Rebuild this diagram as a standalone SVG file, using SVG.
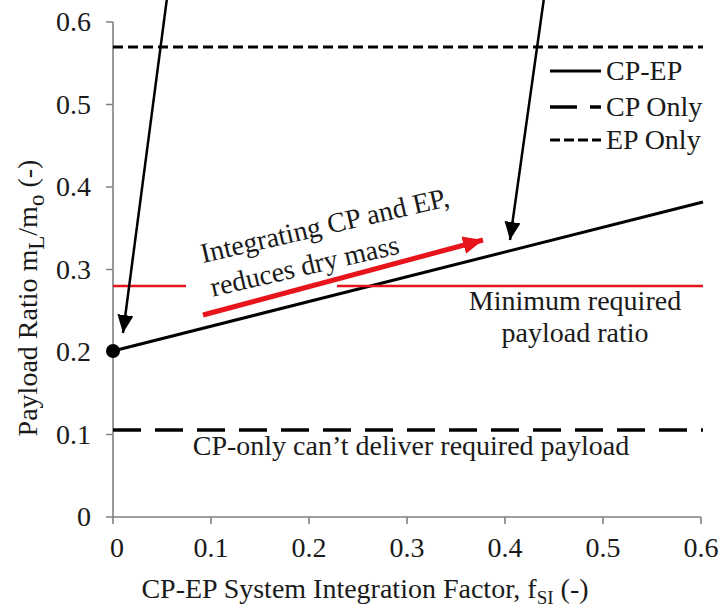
<svg xmlns="http://www.w3.org/2000/svg" width="725" height="613" viewBox="0 0 725 613">
<defs>
<style>
text{font-family:"Liberation Serif","Times New Roman",serif;fill:#1a1a1a;font-size:28px}
.ax{stroke:#808080;stroke-width:1.6;fill:none}
.tk{text-anchor:middle}
.yt{text-anchor:end}
.blk{stroke:#000;stroke-width:2.5;fill:none}
.red{stroke:#e8141b;fill:none}
</style>
<marker id="ahb" markerUnits="userSpaceOnUse" markerWidth="20" markerHeight="20" refX="18" refY="8" orient="auto">
<path d="M0,0 L18,8 L0,16 Z" fill="#000"/>
</marker>
<marker id="ahr" markerUnits="userSpaceOnUse" markerWidth="22" markerHeight="20" refX="20" refY="9" orient="auto">
<path d="M0,0 L20,9 L0,18 Z" fill="#e8141b"/>
</marker>
</defs>
<rect width="725" height="613" fill="#fff"/>
<g id="axes">
<path class="ax" d="M113,22 V517 H701"/>
<path class="ax" d="M106,22 H113 M106,104.5 H113 M106,187 H113 M106,269.5 H113 M106,352 H113 M106,434.5 H113 M106,517 H113"/>
<path class="ax" d="M113,517 V524 M211,517 V524 M309,517 V524 M407,517 V524 M505,517 V524 M603,517 V524 M701,517 V524"/>
<text class="yt" x="91" y="31">0.6</text>
<text class="yt" x="91" y="113.5">0.5</text>
<text class="yt" x="91" y="196">0.4</text>
<text class="yt" x="91" y="278.5">0.3</text>
<text class="yt" x="91" y="361">0.2</text>
<text class="yt" x="91" y="443.5">0.1</text>
<text class="yt" x="91" y="526">0</text>
<text class="tk" x="117" y="557">0</text>
<text class="tk" x="211" y="557">0.1</text>
<text class="tk" x="309" y="557">0.2</text>
<text class="tk" x="407" y="557">0.3</text>
<text class="tk" x="505" y="557">0.4</text>
<text class="tk" x="603" y="557">0.5</text>
<text class="tk" x="701" y="557">0.6</text>
<text class="tk" x="365" y="598">CP-EP System Integration Factor, f<tspan font-size="19" dy="6">SI</tspan><tspan dy="-6"> (-)</tspan></text>
<text transform="translate(37,298) rotate(-90)" text-anchor="middle" font-size="34">Payload Ratio m<tspan font-size="23" dy="7">L</tspan><tspan dy="-7">/m</tspan><tspan font-size="23" dy="7">o</tspan><tspan dy="-7"> (-)</tspan></text>
</g>
<g id="series">
<path d="M113,47 H703" stroke="#000" stroke-width="3" stroke-dasharray="10 5"/>
<path d="M113,430 H703" stroke="#000" stroke-width="3.5" stroke-dasharray="28 14"/>
<path d="M113,351 L703,202" stroke="#000" stroke-width="3"/>
<circle cx="113" cy="351" r="7" fill="#000"/>
<path class="red" stroke-width="2.5" d="M113,286 H186 M337,286 H703"/>
</g>
<g id="legend">
<path d="M550,71 H601" stroke="#000" stroke-width="3"/>
<path d="M550,107 H601" stroke="#000" stroke-width="3.5" stroke-dasharray="27 13"/>
<path d="M550,140 H601" stroke="#000" stroke-width="3" stroke-dasharray="10 4"/>
<text x="606" y="80">CP-EP</text>
<text x="606" y="116">CP Only</text>
<text x="606" y="149">EP Only</text>
</g>
<g id="connectors">
<path class="blk" d="M167,-2 L123,333" marker-end="url(#ahb)"/>
<path class="blk" d="M544,-2 L510,240" marker-end="url(#ahb)"/>
<path class="red" stroke-width="5" d="M203,315 L483,240" marker-end="url(#ahr)"/>
</g>
<g id="labels">
<g transform="translate(203,263) rotate(-13)">
<text x="0" y="0">Integrating CP and EP,</text>
<text x="2" y="35">reduces dry mass</text>
</g>
<text class="tk" x="575" y="310">Minimum required</text>
<text class="tk" x="575" y="342">payload ratio</text>
<text class="tk" x="411" y="455">CP-only can’t deliver required payload</text>
</g>
</svg>
